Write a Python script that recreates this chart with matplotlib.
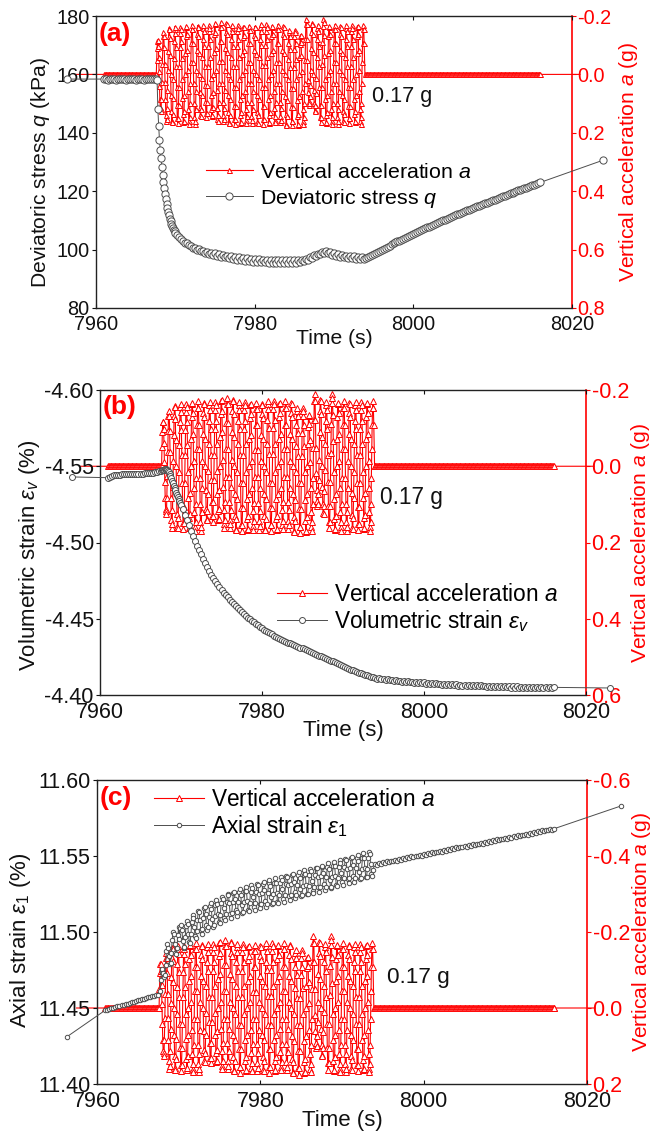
import numpy as np
import matplotlib
matplotlib.use("Agg")
import matplotlib.pyplot as plt
from matplotlib.lines import Line2D

plt.rcParams['font.family'] = ['Liberation Sans', 'DejaVu Sans']
plt.rcParams['mathtext.fontset'] = 'custom'
plt.rcParams['mathtext.rm'] = 'Liberation Sans'
plt.rcParams['mathtext.it'] = 'Liberation Sans:italic'
plt.rcParams['mathtext.bf'] = 'Liberation Sans:bold'
plt.rcParams['axes.unicode_minus'] = False

RED = '#ff0000'
GRAY = '#4d4d4d'

# ---------------- data ----------------
time_ticks = [7960, 7980, 8000, 8020]
time_tick_labels = ['7960', '7980', '8000', '8020']

# vertical acceleration (g)
acc_base_dt = 0.1
acc_pre_start, acc_pre_count = 7961.0, 66
acc_shake_start, acc_shake_dt = 7967.6, 0.05
acc_post_start, acc_post_count = 7993.9, 222
acc_baseline = 0.0
acc_end_times = [7957.5, 8021.0]
acc_shake = [
    # 7967.60 - 7969.35
    0.000, -0.050, -0.091, -0.115, -0.117, -0.097, -0.060, -0.011, 0.041, 0.084, 0.112, 0.118,
    0.125, 0.083, 0.026, -0.037, -0.093, -0.131, -0.145, -0.131, -0.093, -0.037, 0.026, 0.083,
    0.140, 0.161, 0.152, 0.114, 0.055, -0.014, -0.081, -0.132, -0.159, -0.156, -0.124, -0.068,
    # 7969.40 - 7971.15
    0.000, 0.070, 0.126, 0.159, 0.162, 0.135, 0.082, 0.015, -0.056, -0.116, -0.155, -0.164,
    -0.143, -0.095, -0.029, 0.043, 0.106, 0.149, 0.165, 0.149, 0.106, 0.043, -0.029, -0.095,
    -0.143, -0.164, -0.155, -0.116, -0.056, 0.015, 0.082, 0.135, 0.162, 0.159, 0.126, 0.070,
    # 7971.20 - 7972.95
    0.000, -0.072, -0.130, -0.164, -0.167, -0.139, -0.085, -0.015, 0.058, 0.120, 0.160, 0.169,
    0.147, 0.098, 0.030, -0.044, -0.109, -0.154, -0.170, -0.154, -0.109, -0.044, 0.030, 0.098,
    0.147, 0.169, 0.160, 0.120, 0.058, -0.015, -0.085, -0.139, -0.167, -0.164, -0.130, -0.072,
    # 7973.00 - 7974.75
    0.000, 0.061, 0.111, 0.139, 0.142, 0.118, 0.072, 0.013, -0.058, -0.120, -0.160, -0.169,
    -0.147, -0.098, -0.030, 0.037, 0.093, 0.131, 0.145, 0.131, 0.093, 0.037, -0.030, -0.098,
    -0.147, -0.169, -0.160, -0.120, -0.058, 0.013, 0.072, 0.118, 0.142, 0.139, 0.111, 0.061,
    # 7974.80 - 7976.55
    0.000, -0.076, -0.137, -0.172, -0.175, -0.146, -0.089, -0.016, 0.055, 0.114, 0.152, 0.161,
    0.140, 0.093, 0.029, -0.046, -0.114, -0.162, -0.179, -0.162, -0.114, -0.046, 0.029, 0.093,
    0.140, 0.161, 0.152, 0.114, 0.055, -0.016, -0.089, -0.146, -0.175, -0.172, -0.137, -0.076,
    # 7976.60 - 7978.35
    0.000, 0.072, 0.130, 0.164, 0.167, 0.139, 0.085, 0.015, -0.058, -0.120, -0.160, -0.169,
    -0.147, -0.098, -0.030, 0.044, 0.109, 0.154, 0.170, 0.154, 0.109, 0.044, -0.030, -0.098,
    -0.147, -0.169, -0.160, -0.120, -0.058, 0.015, 0.085, 0.139, 0.167, 0.164, 0.130, 0.072,
    # 7978.40 - 7980.15
    0.000, -0.071, -0.127, -0.161, -0.164, -0.136, -0.083, -0.015, 0.057, 0.118, 0.157, 0.166,
    0.144, 0.096, 0.029, -0.043, -0.107, -0.151, -0.167, -0.151, -0.107, -0.043, 0.029, 0.096,
    0.144, 0.166, 0.157, 0.118, 0.057, -0.015, -0.083, -0.136, -0.164, -0.161, -0.127, -0.071,
    # 7980.20 - 7981.95
    0.000, 0.072, 0.130, 0.164, 0.167, 0.139, 0.085, 0.015, -0.059, -0.122, -0.163, -0.172,
    -0.150, -0.100, -0.031, 0.044, 0.109, 0.154, 0.170, 0.154, 0.109, 0.044, -0.031, -0.100,
    -0.150, -0.172, -0.163, -0.122, -0.059, 0.015, 0.085, 0.139, 0.167, 0.164, 0.130, 0.072,
    # 7982.00 - 7983.75
    0.000, -0.072, -0.130, -0.164, -0.167, -0.139, -0.085, -0.015, 0.056, 0.116, 0.155, 0.164,
    0.143, 0.095, 0.029, -0.044, -0.109, -0.154, -0.170, -0.154, -0.109, -0.044, 0.029, 0.095,
    0.143, 0.164, 0.155, 0.116, 0.056, -0.015, -0.085, -0.139, -0.167, -0.164, -0.130, -0.072,
    # 7983.80 - 7985.55
    0.000, 0.074, 0.134, 0.169, 0.172, 0.143, 0.088, 0.015, -0.052, -0.108, -0.144, -0.152,
    -0.132, -0.088, -0.027, 0.045, 0.112, 0.159, 0.175, 0.159, 0.112, 0.045, -0.027, -0.088,
    -0.132, -0.152, -0.144, -0.108, -0.052, 0.015, 0.088, 0.143, 0.172, 0.169, 0.134, 0.074,
    # 7985.60 - 7987.35
    0.000, -0.058, -0.104, -0.131, -0.134, -0.111, -0.068, -0.012, 0.058, 0.120, 0.160, 0.169,
    0.147, 0.098, 0.030, -0.049, -0.122, -0.172, -0.190, -0.172, -0.122, -0.049, 0.019, 0.061,
    0.091, 0.105, 0.099, 0.074, 0.036, -0.016, -0.089, -0.146, -0.175, -0.172, -0.137, -0.076,
    # 7987.40 - 7989.15
    0.000, 0.054, 0.098, 0.123, 0.125, 0.104, 0.064, 0.011, -0.058, -0.120, -0.160, -0.169,
    -0.147, -0.098, -0.030, 0.042, 0.104, 0.146, 0.162, 0.146, 0.104, 0.042, -0.034, -0.110,
    -0.165, -0.189, -0.179, -0.134, -0.065, 0.015, 0.085, 0.139, 0.167, 0.164, 0.130, 0.072,
    # 7989.20 - 7990.95
    0.000, -0.072, -0.130, -0.164, -0.167, -0.139, -0.085, -0.015, 0.058, 0.120, 0.160, 0.169,
    0.147, 0.098, 0.030, -0.044, -0.109, -0.154, -0.170, -0.154, -0.109, -0.044, 0.030, 0.098,
    0.147, 0.169, 0.160, 0.120, 0.058, -0.015, -0.085, -0.139, -0.167, -0.164, -0.130, -0.072,
    # 7991.00 - 7992.75
    0.000, 0.071, 0.127, 0.161, 0.164, 0.136, 0.083, 0.015, -0.058, -0.120, -0.160, -0.169,
    -0.147, -0.098, -0.030, 0.043, 0.107, 0.151, 0.167, 0.151, 0.107, 0.043, -0.030, -0.098,
    -0.147, -0.169, -0.160, -0.120, -0.058, 0.015, 0.083, 0.136, 0.164, 0.161, 0.127, 0.071,
    # 7992.80 - 7993.80
    0.000, -0.072, -0.130, -0.164, -0.167, -0.139, -0.085, -0.015, 0.058, 0.120, 0.160, 0.169,
    0.147, 0.098, 0.030, -0.044, -0.109, -0.154, -0.170, -0.154, -0.109,
]

# (a) deviatoric stress q (kPa); segment grid (start, step) per panel
q_seg_starts = [7961.0, 7967.7, 7970.25, 7994.0]
q_seg_steps = [0.25, 0.1, 0.25, 0.25]
q_end_points_t = [7956.3, 8023.9]
q_end_points_v = [158.4, 130.6]
q_seg1 = [158.4, 158.3, 158.2, 158.3, 158.4, 158.3, 158.2, 158.3, 158.3, 158.4, 158.3, 158.2,
          158.3, 158.4, 158.3, 158.3, 158.2, 158.3, 158.4, 158.3, 158.2, 158.3, 158.4, 158.3,
          158.3, 158.4, 158.3]
q_seg2 = [158.0, 148.0, 142.4, 137.6, 134.0, 131.2, 128.4, 125.6, 123.2, 121.0, 119.0, 117.2,
          115.6, 114.2, 112.9, 111.7, 110.6, 109.7, 108.9, 108.1, 107.4, 106.8, 106.2, 105.7]
q_seg3 = [105.0, 104.4, 103.5, 103.1, 102.4, 102.2, 101.5, 101.3, 100.7, 100.6, 100.0, 100.1,
          99.5, 99.6, 99.0, 99.3, 98.6, 99.0, 98.2, 98.7, 97.9, 98.4, 97.6, 98.2,
          97.3, 97.9, 97.1, 97.7, 96.8, 97.5, 96.6, 97.3, 96.4, 97.1, 96.2, 97.0,
          96.0, 96.9, 95.9, 96.8, 95.8, 96.7, 95.7, 96.6, 95.6, 96.6, 95.5, 96.5,
          95.5, 96.5, 95.4, 96.5, 95.4, 96.4, 95.4, 96.4, 95.4, 96.4, 95.4, 96.4,
          95.5, 96.5, 95.6, 96.6, 96.0, 96.9, 96.6, 97.4, 97.2, 98.0, 97.8, 98.6,
          98.4, 99.2, 98.9, 99.6, 98.8, 99.3, 98.2, 98.8, 97.8, 98.4, 97.5, 98.1,
          97.3, 97.9, 97.2, 97.8, 97.1, 97.7, 96.9, 97.6, 96.8, 97.5, 96.8]
q_seg4 = [97.0, 97.4, 97.7, 98.1, 98.5, 98.9, 99.2, 99.6, 100.0,
          100.35, 100.7, 101.05, 101.4, 101.75, 102.1, 102.45, 102.8,
          103.1, 103.45, 103.8, 104.1, 104.45, 104.75, 105.1, 105.4,
          105.7, 106.0, 106.35, 106.65, 106.95, 107.3, 107.6, 107.9,
          108.2, 108.5, 108.8, 109.1, 109.4, 109.7, 110.0, 110.3,
          110.6, 110.9, 111.15, 111.45, 111.75, 112.05, 112.3, 112.6,
          112.9, 113.15, 113.45, 113.7, 114.0, 114.25, 114.55, 114.8,
          115.05, 115.3, 115.6, 115.85, 116.1, 116.4, 116.65, 116.9,
          117.15, 117.4, 117.7, 117.95, 118.2, 118.5, 118.75, 119.0,
          119.25, 119.5, 119.75, 120.0, 120.25, 120.5, 120.75, 121.0,
          121.25, 121.5, 121.75, 122.0, 122.25, 122.5, 122.75, 123.0]

# (b) volumetric strain (%)
ev_seg_starts = [7961.0, 7967.7, 7970.25, 7994.0]
ev_seg_steps = [0.25, 0.1, 0.25, 0.25]
ev_end_points_t = [7956.5, 8023.0]
ev_end_points_v = [-4.5430, -4.4046]
ev_seg1 = [-4.5425, -4.5432, -4.5438, -4.5440, -4.5442, -4.5443, -4.5445, -4.5446, -4.5446,
           -4.5447, -4.5448, -4.5448, -4.5449, -4.5450, -4.5450, -4.5451, -4.5452, -4.5452,
           -4.5453, -4.5454, -4.5455, -4.5456, -4.5458, -4.5460, -4.5463, -4.5467, -4.5472]
ev_seg2 = [-4.5474, -4.5476, -4.5478, -4.5479, -4.5479, -4.5478, -4.5475, -4.5470, -4.5462,
           -4.5450, -4.5436, -4.5422, -4.5405, -4.5388, -4.5372, -4.5356, -4.5341, -4.5327,
           -4.5313, -4.5300, -4.5287, -4.5274, -4.5261, -4.5248]
ev_seg3 = [-4.5218, -4.5180, -4.5148, -4.5112, -4.5078, -4.5042, -4.5012, -4.4980, -4.4950,
           -4.4922, -4.4893, -4.4868, -4.4838, -4.4812, -4.4790, -4.4768, -4.4748, -4.4727,
           -4.4708, -4.4690, -4.4672, -4.4655, -4.4640, -4.4625, -4.4610, -4.4596, -4.4582,
           -4.4568, -4.4556, -4.4543, -4.4531, -4.4519, -4.4508, -4.4497, -4.4486, -4.4476,
           -4.4466, -4.4456, -4.4447, -4.4438, -4.4429, -4.4421, -4.4413, -4.4405, -4.4397,
           -4.4390, -4.4383, -4.4376, -4.4369, -4.4362, -4.4356, -4.4350, -4.4344, -4.4338,
           -4.4332, -4.4326, -4.4320, -4.4315, -4.4310, -4.4305, -4.4300, -4.4294, -4.4288,
           -4.4282, -4.4276, -4.4270, -4.4264, -4.4258, -4.4253, -4.4248, -4.4243, -4.4238,
           -4.4232, -4.4226, -4.4220, -4.4214, -4.4208, -4.4202, -4.4196, -4.4190, -4.4184,
           -4.4178, -4.4172, -4.4166, -4.4161, -4.4156, -4.4151, -4.4146, -4.4141, -4.4136,
           -4.4132, -4.4128, -4.4124, -4.4120, -4.4116]
ev_seg4 = [-4.4112, -4.4106, -4.4112, -4.4102, -4.4106, -4.4098, -4.4104, -4.4096,
           -4.4100, -4.4092, -4.4098, -4.4090, -4.4094, -4.4086, -4.4092, -4.4084,
           -4.4090, -4.4082, -4.4088, -4.4080, -4.4085, -4.4078, -4.4084, -4.4076,
           -4.4082, -4.4074, -4.4080, -4.4072, -4.4078, -4.4070, -4.4076, -4.4069,
           -4.4075, -4.4067, -4.4073, -4.4066, -4.4071, -4.4064, -4.4070, -4.4063,
           -4.4070, -4.4062, -4.4068, -4.4061, -4.4067, -4.4060, -4.4066, -4.4059,
           -4.4066, -4.4058, -4.4064, -4.4057, -4.4063, -4.4056, -4.4062, -4.4055,
           -4.4062, -4.4054, -4.4061, -4.4053, -4.4060, -4.4052, -4.4059, -4.4051,
           -4.4058, -4.4050, -4.4057, -4.4049, -4.4056, -4.4048, -4.4056, -4.4048,
           -4.4055, -4.4047, -4.4054, -4.4046, -4.4054, -4.4046, -4.4053, -4.4045,
           -4.4053, -4.4045, -4.4052, -4.4044, -4.4052, -4.4044, -4.4051, -4.4043,
           -4.4050]

# (c) axial strain (%)
e1_seg_starts = [7961.0, 7967.7, 7970.1, 7994.0]
e1_seg_steps = [0.25, 0.1, 0.1, 0.25]
e1_end_points_t = [7956.3, 8024.2]
e1_end_points_v = [11.431, 11.583]
e1_seg1 = [11.4485, 11.4490, 11.4493, 11.4498, 11.4501, 11.4506, 11.4510, 11.4514, 11.4517,
           11.4522, 11.4526, 11.4529, 11.4534, 11.4538, 11.4541, 11.4546, 11.4550, 11.4553,
           11.4558, 11.4562, 11.4565, 11.4570, 11.4574, 11.4577, 11.4581, 11.4585, 11.4588]
e1_seg2 = [11.4610, 11.4683, 11.4739, 11.4755, 11.4730, 11.4704, 11.4720, 11.4786, 11.4878,
           11.4920, 11.4898, 11.4845, 11.4792, 11.4795, 11.4859, 11.4945, 11.4998, 11.4990,
           11.4920, 11.4860, 11.4852, 11.4895, 11.4981, 11.5035]
e1_seg3 = [
    11.4955, 11.5024, 11.5047, 11.5010, 11.4942, 11.4895, 11.4904, 11.4967, 11.5041, 11.5075,
    11.5050, 11.4985, 11.4931, 11.4930, 11.4986, 11.5063, 11.5109, 11.5095, 11.5035, 11.4975,
    11.4960, 11.5005, 11.5081, 11.5136, 11.5134, 11.5079, 11.5013, 11.4987, 11.5021, 11.5095,
    11.5157, 11.5166, 11.5118, 11.5049, 11.5011, 11.5033, 11.5101, 11.5169, 11.5191, 11.5153,
    11.5084, 11.5036, 11.5045, 11.5107, 11.5180, 11.5213, 11.5186, 11.5119, 11.5063, 11.5060,
    11.5114, 11.5189, 11.5233, 11.5217, 11.5155, 11.5093, 11.5077, 11.5121, 11.5196, 11.5250,
    11.5246, 11.5189, 11.5121, 11.5093, 11.5125, 11.5197, 11.5258, 11.5266, 11.5217, 11.5147,
    11.5108, 11.5129, 11.5196, 11.5263, 11.5284, 11.5245, 11.5175, 11.5126, 11.5134, 11.5195,
    11.5267, 11.5298, 11.5270, 11.5201, 11.5144, 11.5139, 11.5192, 11.5265, 11.5308, 11.5290,
    11.5227, 11.5163, 11.5146, 11.5188, 11.5262, 11.5314, 11.5310, 11.5252, 11.5184, 11.5155,
    11.5187, 11.5258, 11.5319, 11.5326, 11.5277, 11.5206, 11.5167, 11.5187, 11.5254, 11.5320,
    11.5341, 11.5301, 11.5231, 11.5181, 11.5189, 11.5250, 11.5321, 11.5353, 11.5324, 11.5256,
    11.5198, 11.5194, 11.5246, 11.5320, 11.5362, 11.5345, 11.5281, 11.5218, 11.5200, 11.5243,
    11.5316, 11.5369, 11.5365, 11.5307, 11.5239, 11.5210, 11.5242, 11.5313, 11.5374, 11.5381,
    11.5332, 11.5261, 11.5222, 11.5242, 11.5309, 11.5375, 11.5396, 11.5356, 11.5286, 11.5237,
    11.5244, 11.5305, 11.5376, 11.5408, 11.5379, 11.5311, 11.5253, 11.5249, 11.5301, 11.5375,
    11.5417, 11.5400, 11.5337, 11.5273, 11.5256, 11.5298, 11.5372, 11.5424, 11.5420, 11.5362,
    11.5294, 11.5265, 11.5297, 11.5368, 11.5429, 11.5437, 11.5387, 11.5317, 11.5277, 11.5298,
    11.5364, 11.5430, 11.5451, 11.5412, 11.5341, 11.5292, 11.5299, 11.5360, 11.5431, 11.5463,
    11.5434, 11.5366, 11.5308, 11.5304, 11.5356, 11.5430, 11.5472, 11.5455, 11.5391, 11.5328,
    11.5311, 11.5353, 11.5427, 11.5479, 11.5475, 11.5417, 11.5349, 11.5320, 11.5352, 11.5423,
    11.5484, 11.5491, 11.5442, 11.5371, 11.5332, 11.5353, 11.5419, 11.5486, 11.5506, 11.5467,
    11.5396, 11.5347, 11.5354, 11.5415, 11.5486, 11.5518, 11.5489, 11.5421, 11.5364, 11.5359,
    11.5412, 11.5485, 11.5528, 11.5510, 11.5447, 11.5383, 11.5366, 11.5408]
e1_seg4 = [11.5449, 11.5444, 11.5454, 11.5449, 11.5460, 11.5454, 11.5465, 11.5460,
           11.5470, 11.5465, 11.5475, 11.5470, 11.5481, 11.5475, 11.5486, 11.5481,
           11.5492, 11.5487, 11.5497, 11.5492, 11.5503, 11.5497, 11.5508, 11.5503,
           11.5513, 11.5508, 11.5518, 11.5513, 11.5524, 11.5518, 11.5529, 11.5524,
           11.5534, 11.5529, 11.5539, 11.5534, 11.5545, 11.5539, 11.5550, 11.5545,
           11.5556, 11.5551, 11.5561, 11.5556, 11.5567, 11.5561, 11.5572, 11.5567,
           11.5577, 11.5572, 11.5582, 11.5577, 11.5588, 11.5582, 11.5593, 11.5588,
           11.5599, 11.5594, 11.5604, 11.5599, 11.5610, 11.5604, 11.5615, 11.5610,
           11.5620, 11.5615, 11.5625, 11.5620, 11.5631, 11.5625, 11.5636, 11.5631,
           11.5641, 11.5636, 11.5646, 11.5641, 11.5652, 11.5646, 11.5657, 11.5652,
           11.5663, 11.5658, 11.5668, 11.5663, 11.5674, 11.5668, 11.5679, 11.5674,
           11.5680]

# axis settings
q_ticks = [80, 100, 120, 140, 160, 180]
ev_ticks = [-4.60, -4.55, -4.50, -4.45, -4.40]
ev_tick_labels = ['-4.60', '-4.55', '-4.50', '-4.45', '-4.40']
e1_ticks = [11.40, 11.45, 11.50, 11.55, 11.60]
e1_tick_labels = ['11.40', '11.45', '11.50', '11.55', '11.60']
acc_ticks_ab = [-0.2, 0.0, 0.2, 0.4, 0.6, 0.8]
acc_labels_ab = ['-0.2', '0.0', '0.2', '0.4', '0.6', '0.8']
acc_ticks_c = [-0.6, -0.4, -0.2, 0.0, 0.2]
acc_labels_c = ['-0.6', '-0.4', '-0.2', '0.0', '0.2']


def acc_series():
    t_pre = acc_pre_start + acc_base_dt * np.arange(acc_pre_count)
    t_sh = acc_shake_start + acc_shake_dt * np.arange(len(acc_shake))
    t_post = acc_post_start + acc_base_dt * np.arange(acc_post_count)
    t = np.concatenate([[acc_end_times[0]], t_pre, t_sh, t_post, [acc_end_times[1]]])
    v = np.concatenate([[acc_baseline], np.full(acc_pre_count, acc_baseline), acc_shake,
                        np.full(acc_post_count, acc_baseline), [acc_baseline]])
    return t, v


def resp_series(starts, steps, segs, ends_t, ends_v):
    ts, vs = [ends_t[0]], [ends_v[0]]
    for s0, st, seg in zip(starts, steps, segs):
        ts.extend(s0 + st * np.arange(len(seg)))
        vs.extend(seg)
    ts.append(ends_t[1])
    vs.append(ends_v[1])
    return np.array(ts), np.array(vs)


fig = plt.figure(figsize=(6.51, 11.35), dpi=100)
W, H = 651.0, 1135.0


def panel(box, resp, ylim, yticks, ylabels, y2lim, y2ticks, y2labels,
          ylabel, resp_label, letter, fs, circ_ms, tri_ms, leg_xy, leg_spacing,
          ann_xy, ylab_x, ylab_y, y2lab_x, xlab_y):
    l, r, top, bot = box
    ax = fig.add_axes([l / W, 1 - bot / H, (r - l) / W, (bot - top) / H])
    ax2 = ax.twinx()
    ax.set_zorder(ax2.get_zorder() + 1)
    ax.patch.set_visible(False)

    tick_fs, lab_fs, leg_fs, ann_fs, y2lab_fs = fs

    ta, va = acc_series()
    ax2.plot(ta, va, color=RED, lw=0.8, marker='^', ms=tri_ms, mfc='white', mec=RED,
             mew=0.7, markevery=slice(1, len(ta) - 1), clip_on=False, zorder=2)
    tr, vr = resp
    ax.plot(tr, vr, color=GRAY, lw=0.7, marker='o', ms=circ_ms, mfc='white', mec=GRAY,
            mew=0.7, clip_on=False, zorder=3)

    ax.set_xlim(7960, 8020)
    ax.set_ylim(*ylim)
    ax2.set_ylim(*y2lim)
    ax.set_xticks(time_ticks)
    ax.set_xticklabels(time_tick_labels)
    ax.set_yticks(yticks)
    ax.set_yticklabels(ylabels)
    ax2.set_yticks(y2ticks)
    ax2.set_yticklabels(y2labels)

    ax.tick_params(axis='x', direction='in', length=3, width=0.8, top=True, bottom=True,
                   labelsize=tick_fs, pad=5, colors='#111111')
    ax.tick_params(axis='y', direction='out', length=3, width=0.8, labelsize=tick_fs,
                   pad=1.5, colors='#111111')
    ax2.tick_params(axis='y', direction='out', length=3, width=0.8, labelsize=tick_fs,
                    pad=1, colors=RED)
    for s in ['left', 'top', 'bottom']:
        ax.spines[s].set_linewidth(1.0)
        ax.spines[s].set_color('#222222')
        ax2.spines[s].set_visible(False)
    ax.spines['right'].set_visible(False)
    ax2.spines['right'].set_color(RED)
    ax2.spines['right'].set_linewidth(1.2)

    ax.set_xlabel('Time (s)', fontsize=lab_fs, color='#111111')
    ax.xaxis.set_label_coords(0.5, xlab_y)
    ax.set_ylabel(ylabel, fontsize=lab_fs, color='#111111')
    ax.yaxis.set_label_coords(ylab_x, ylab_y)
    ax2.set_ylabel('Vertical acceleration $a$ (g)', fontsize=y2lab_fs, color=RED)
    ax2.yaxis.set_label_coords(y2lab_x, 0.5)

    h_acc = Line2D([], [], color=RED, lw=0.8, marker='^', ms=tri_ms, mfc='white', mec=RED, mew=0.7)
    h_resp = Line2D([], [], color=GRAY, lw=0.7, marker='o', ms=circ_ms, mfc='white', mec=GRAY, mew=0.7)
    ax.legend([h_acc, h_resp], ['Vertical acceleration $a$', resp_label],
              loc='center left', bbox_to_anchor=leg_xy, frameon=False, fontsize=leg_fs,
              handlelength=2.2, handletextpad=0.32, labelspacing=leg_spacing,
              borderpad=0, borderaxespad=0, numpoints=1)

    ax.text(0.005, letter[1], letter[0], transform=ax.transAxes, color=RED,
            fontsize=19, fontweight='bold', ha='left', va='center')
    ax.text(ann_xy[0], ann_xy[1], '0.17 g', transform=ax.transAxes, fontsize=ann_fs,
            ha='left', va='center', color='#111111')
    return ax, ax2


panel((96, 572, 16, 308),
      resp_series(q_seg_starts, q_seg_steps, [q_seg1, q_seg2, q_seg3, q_seg4],
                  q_end_points_t, q_end_points_v),
      (80, 180), q_ticks, [str(v) for v in q_ticks],
      (0.8, -0.2), acc_ticks_ab, acc_labels_ab,
      'Deviatoric stress $q$ (kPa)', 'Deviatoric stress $q$', ('(a)', 0.94),
      (14.3, 15.2, 15.4, 15.6, 15.2), 5.2, 3.6, (0.231, 0.417), 0.25,
      (0.58, 0.723), -0.092, 0.462, 1.094, -0.072)

panel((100, 586, 390, 695),
      resp_series(ev_seg_starts, ev_seg_steps, [ev_seg1, ev_seg2, ev_seg3, ev_seg4],
                  ev_end_points_t, ev_end_points_v),
      (-4.40, -4.60), ev_ticks, ev_tick_labels,
      (0.6, -0.2), acc_ticks_ab[:-1], acc_labels_ab[:-1],
      'Volumetric strain $\\varepsilon_v$ (%)', 'Volumetric strain $\\varepsilon_v$', ('(b)', 0.944),
      (15.5, 16.0, 16.3, 16.3, 15.2), 4.3, 4.0, (0.364, 0.284), 0.08,
      (0.576, 0.646), -0.119, 0.459, 1.088, -0.082)

panel((97, 587, 780, 1084),
      resp_series(e1_seg_starts, e1_seg_steps, [e1_seg1, e1_seg2, e1_seg3, e1_seg4],
                  e1_end_points_t, e1_end_points_v),
      (11.40, 11.60), e1_ticks, e1_tick_labels,
      (0.2, -0.6), acc_ticks_c, acc_labels_c,
      'Axial strain $\\varepsilon_1$ (%)', 'Axial strain $\\varepsilon_1$', ('(c)', 0.941),
      (15.5, 16.0, 16.3, 16.2, 15.2), 3.2, 4.2, (0.116, 0.890), 0.12,
      (0.591, 0.349), -0.131, 0.474, 1.088, -0.085)

fig.savefig('out.png', dpi=100)
